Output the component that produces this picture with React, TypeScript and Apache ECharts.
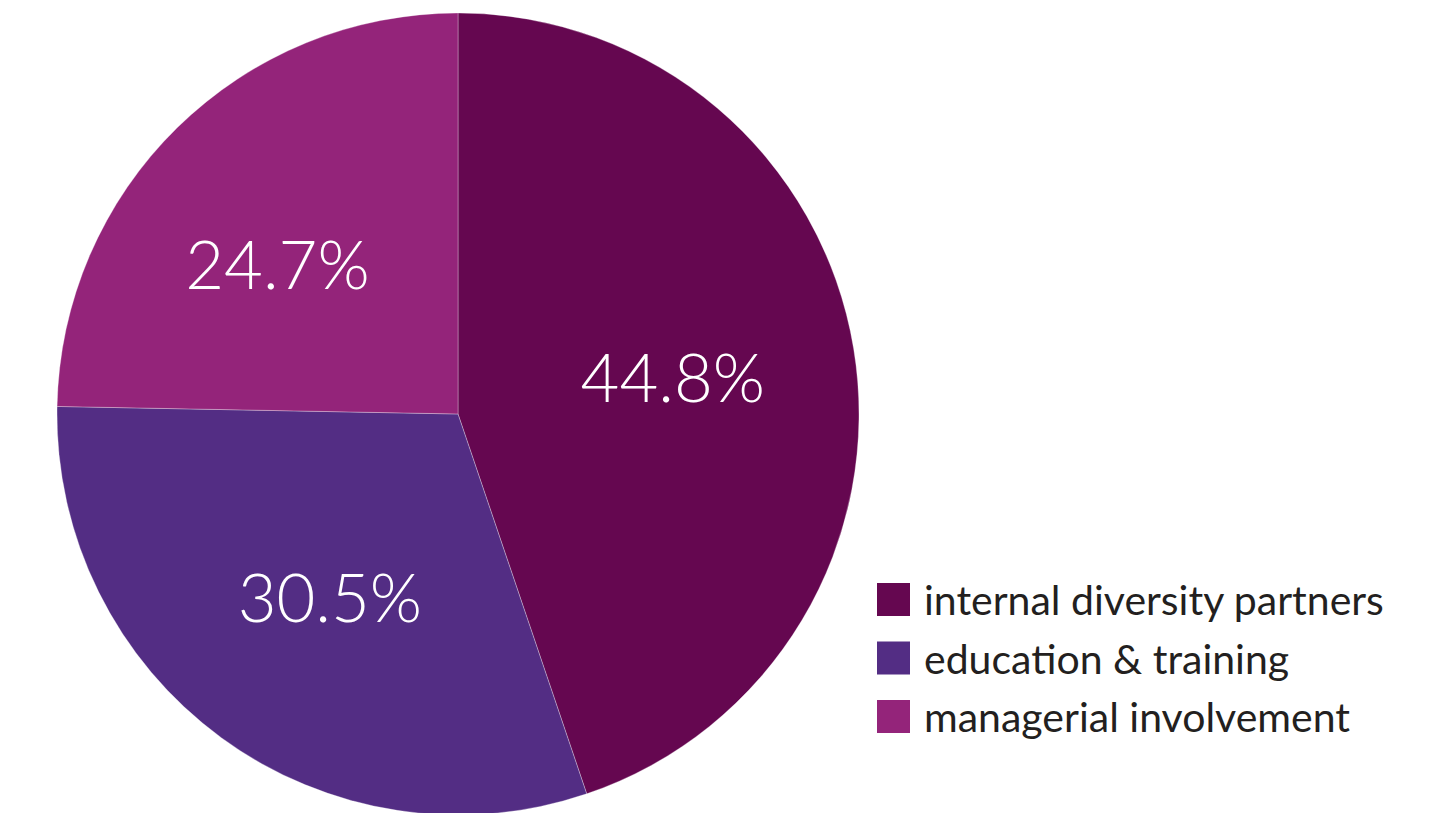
import React, { useEffect, useRef } from "react";
import * as echarts from "echarts";

const categories = ["internal diversity partners", "education & training", "managerial involvement"];
const values = [44.8, 30.5, 24.7];
const colors = ["#650750", "#532d84", "#94247a"];
const labelOffsets = [[14, -5], [-8, 18], [-38, -6]];

export default function App() {
  const ref = useRef<HTMLDivElement>(null);
  useEffect(() => {
    const chart = echarts.init(ref.current!, null, { renderer: "svg" });
    chart.setOption({
      animation: false,
      legend: {
        orient: "vertical",
        left: 877,
        top: 579,
        padding: 0,
        itemWidth: 33,
        itemHeight: 33,
        itemGap: 17.5,
        icon: "rect",
        itemStyle: { borderWidth: 0 },
        textStyle: {
          fontFamily: "Lato",
          fontSize: 41,
          lineHeight: 33,
          color: "#231f20",
          padding: [4, 0, 0, 9],
        },
        data: categories,
      },
      series: [
        {
          type: "pie",
          center: [458, 414],
          radius: 401,
          startAngle: 90,
          clockwise: true,
          itemStyle: { borderColor: "rgba(255,255,255,0.5)", borderWidth: 0.6 },
          label: {
            show: true,
            position: "inside",
            formatter: (p: any) => p.value.toFixed(1) + "%",
            color: "#ffffff",
            fontFamily: "Lato",
            fontWeight: 300,
            fontSize: 67,
          },
          labelLine: { show: false },
          emphasis: { disabled: true },
          data: categories.map((c, i) => ({
            name: c,
            value: values[i],
            itemStyle: { color: colors[i] },
            label: { offset: labelOffsets[i] },
          })),
        },
      ],
    });
    return () => chart.dispose();
  }, []);
  return <div ref={ref} style={{ width: 1444, height: 813, position: "absolute", left: 0, top: 0 }} />;
}
